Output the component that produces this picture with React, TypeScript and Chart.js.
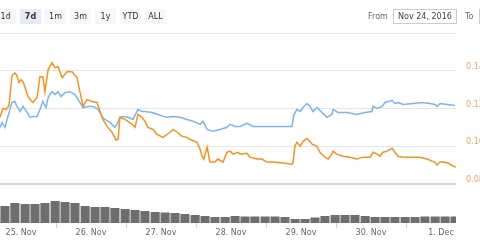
import { useEffect, useRef } from "react";
import { Chart, registerables } from "chart.js";

Chart.register(...registerables);

const FONT = "'DejaVu Sans', sans-serif";

const rangeButtons = ["1d", "7d", "1m", "3m", "1y", "YTD", "ALL"];
const selectedRange = "7d";
const fromDate = "Nov 24, 2016";

// x values: hours since 25 Nov 00:00
const dayTicks = [0, 24, 48, 72, 96, 120, 144];
const dayLabels = ["25. Nov", "26. Nov", "27. Nov", "28. Nov", "29. Nov", "30. Nov", "1. Dec"];
const priceTicks = [0.08, 0.1, 0.12, 0.14, 0.16];

const orangeHours = [
  -7.2, -6.2, -5.1, -4.1, -3.1, -2.1, -1.4, -0.7, 0, 0.7,
  1.4, 2.4, 3.4, 4.1, 5.5, 6.5, 7.5, 8.2, 9.3, 10.6,
  11.7, 12.7, 14.1, 15.8, 17.5, 19.2, 20.2, 21.3, 22.6, 24.3,
  26.1, 27.1, 28.1, 29.5, 31.2, 32.6, 33.3, 33.9, 35.7, 36.7,
  38.1, 39.1, 40.1, 41.5, 42.5, 43.5, 45.3, 46.6, 48.7, 51.1,
  52.1, 53.5, 55.2, 56.9, 57.9, 60.3, 61.4, 62.1, 62.7, 63.8,
  64.8, 66.5, 67.5, 69.3, 70.6, 71.7, 72.7, 74.4, 75.1, 77.5,
  78.5, 80.9, 82.6, 84.3, 86.4, 89.8, 92.9, 93.3, 93.9, 94.6,
  95.7, 96.7, 98.1, 99.8, 101.5, 102.5, 104.2, 105.3, 106.6, 107.0,
  108.3, 110.4, 112.8, 115.2, 117.3, 119.7, 120.7, 122.1, 123.1, 124.1,
  125.5, 127.2, 128.2, 129.3, 131.0, 133.4, 136.8, 139.2, 140.9, 141.9,
  142.6, 143.7, 144.7, 146.4, 148.1, 149.1,
];
const orangeValues = [
  0.1153, 0.12, 0.1195, 0.1216, 0.1374, 0.1389, 0.1374, 0.1337, 0.1353, 0.1342,
  0.1311, 0.1263, 0.1242, 0.1232, 0.1258, 0.1368, 0.1368, 0.1289, 0.1405, 0.1442,
  0.1416, 0.1421, 0.1363, 0.1395, 0.1395, 0.1363, 0.1289, 0.1211, 0.1247, 0.1237,
  0.1232, 0.1184, 0.1142, 0.1105, 0.1074, 0.1032, 0.1037, 0.1153, 0.1142, 0.1132,
  0.1116, 0.11, 0.1168, 0.1153, 0.1132, 0.11, 0.1089, 0.1063, 0.1047, 0.1074,
  0.1089, 0.1074, 0.1053, 0.1047, 0.1037, 0.1021, 0.0984, 0.0947, 0.0932, 0.0995,
  0.0916, 0.0916, 0.0932, 0.0916, 0.0968, 0.0974, 0.0958, 0.0968, 0.0958, 0.0963,
  0.0942, 0.0932, 0.0932, 0.0916, 0.0916, 0.0911, 0.0905, 0.0916, 0.1, 0.1021,
  0.1, 0.1026, 0.1042, 0.1011, 0.1, 0.0968, 0.0942, 0.0932, 0.0958, 0.0974,
  0.0958, 0.0947, 0.0942, 0.0932, 0.0942, 0.0942, 0.0968, 0.0958, 0.0947, 0.0968,
  0.0974, 0.0989, 0.0968, 0.0947, 0.0942, 0.0942, 0.0942, 0.0932, 0.0921, 0.0916,
  0.09, 0.0916, 0.0916, 0.0911, 0.0895, 0.0889,
];

const blueHours = [
  -7.2, -6.5, -5.5, -3.8, -3.1, -2.1, -1.4, -0.3, 0.7, 2.1,
  3.1, 4.1, 5.5, 6.5, 7.5, 8.6, 9.3, 10.6, 11.7, 12.7,
  13.7, 15.1, 16.8, 18.5, 20.2, 21.3, 23.0, 24.7, 26.4, 27.8,
  28.8, 30.5, 32.2, 32.9, 33.9, 35.0, 36.7, 38.4, 40.1, 41.5,
  42.5, 44.9, 47.0, 48.7, 50.4, 52.1, 54.5, 56.9, 59.0, 61.4,
  62.4, 63.8, 65.8, 68.2, 70.6, 71.7, 73.4, 75.1, 77.5, 79.5,
  81.9, 85.4, 88.8, 92.9, 93.6, 94.6, 95.7, 96.7, 98.1, 99.1,
  100.1, 101.5, 103.2, 104.9, 106.6, 107.0, 108.7, 111.8, 115.2, 117.9,
  120.3, 120.7, 122.1, 123.8, 124.8, 127.2, 128.2, 129.3, 131.0, 134.4,
  137.5, 140.2, 141.9, 142.6, 143.7, 146.1, 148.8,
];
const blueValues = [
  0.11, 0.1126, 0.11, 0.1195, 0.1232, 0.1237, 0.1211, 0.1184, 0.1211, 0.1179,
  0.1153, 0.1158, 0.1158, 0.1195, 0.1237, 0.1205, 0.1258, 0.1289, 0.1274, 0.1289,
  0.1263, 0.1284, 0.1289, 0.1274, 0.1232, 0.1205, 0.1211, 0.1211, 0.1195, 0.1158,
  0.1142, 0.1126, 0.11, 0.1116, 0.1153, 0.1158, 0.1153, 0.1142, 0.1195, 0.1184,
  0.1184, 0.1179, 0.1168, 0.1158, 0.1153, 0.1158, 0.1153, 0.1142, 0.1132, 0.1116,
  0.1132, 0.1089, 0.1079, 0.1089, 0.11, 0.1116, 0.1105, 0.1105, 0.1121, 0.1105,
  0.1105, 0.1105, 0.1105, 0.1105, 0.1168, 0.1195, 0.1184, 0.1205, 0.1226, 0.1211,
  0.1184, 0.1205, 0.1179, 0.1153, 0.1168, 0.1195, 0.1179, 0.1179, 0.1168, 0.1179,
  0.1184, 0.1211, 0.12, 0.1211, 0.1232, 0.1242, 0.1226, 0.1232, 0.1221, 0.1226,
  0.1232, 0.1226, 0.1221, 0.1211, 0.1226, 0.1221, 0.1216,
];

const volumeHours = [
  -5.5, -2.1, 1.4, 4.8, 8.2, 11.7, 15.1, 18.5, 22.0, 25.4,
  28.8, 32.2, 35.7, 39.1, 42.5, 46.0, 49.4, 52.8, 56.2, 59.7,
  63.1, 66.5, 70.0, 73.4, 76.8, 80.2, 83.7, 87.1, 90.5, 94.0,
  97.4, 100.8, 104.2, 107.7, 111.1, 114.5, 118.0, 121.4, 124.8, 128.2,
  131.7, 135.1, 138.5, 142.0, 145.4, 148.8,
];
const volumeValues = [
  17, 20, 19, 19, 20, 22, 21, 20, 17, 16,
  16, 15, 14, 13, 12, 11, 10.5, 10, 9, 8,
  7, 6, 6, 7, 6.5, 6.5, 6.5, 6.5, 6, 4,
  4, 5.5, 7, 8, 8, 8, 7, 6, 6, 6,
  6, 6, 6.5, 6.5, 6.5, 6.5,
];

const toPoints = (xs: number[], ys: number[]) => xs.map((x, i) => ({ x, y: ys[i] }));

export default function App() {
  const canvasRef = useRef<HTMLCanvasElement | null>(null);

  useEffect(() => {
    document.body.style.margin = "0";
    const canvas = canvasRef.current;
    if (!canvas) return;
    const chart = new Chart(canvas, {
      type: "bar",
      data: {
        datasets: [
          {
            type: "line",
            data: toPoints(orangeHours, orangeValues),
            borderColor: "#f7931a",
            borderWidth: 1.5,
            pointRadius: 0,
            tension: 0,
            yAxisID: "y",
            order: 0,
          } as any,
          {
            type: "line",
            data: toPoints(blueHours, blueValues),
            borderColor: "#7cb5ec",
            borderWidth: 1.5,
            pointRadius: 0,
            tension: 0,
            yAxisID: "y",
            order: 1,
          } as any,
          {
            type: "bar",
            data: toPoints(volumeHours, volumeValues),
            backgroundColor: "#6e6e6e",
            borderWidth: 0,
            barPercentage: 0.92,
            categoryPercentage: 1,
            yAxisID: "yv",
            order: 2,
          } as any,
        ],
      },
      options: {
        animation: false,
        responsive: false,
        layout: { padding: { top: 33, left: 0, right: 0, bottom: 0 } },
        plugins: { legend: { display: false }, tooltip: { enabled: false } },
        scales: {
          x: {
            type: "linear",
            min: -7.2,
            max: 149.14,
            offset: false,
            afterBuildTicks: (s: any) => {
              s.ticks = dayTicks.map((v) => ({ value: v }));
            },
            afterFit: (s: any) => {
              s.height = 17;
            },
            ticks: {
              autoSkip: false,
              maxRotation: 0,
              padding: 0,
              color: "#666666",
              font: { family: FONT, size: 8 },
              callback: (_v: any, i: number) => dayLabels[i] ?? "",
            },
            grid: { drawOnChartArea: false, drawTicks: true, tickLength: 5, color: "#ccd6eb" },
            border: { display: false },
          },
          y: {
            type: "linear",
            position: "right",
            min: 0.0593,
            max: 0.16,
            afterBuildTicks: (s: any) => {
              s.ticks = priceTicks.map((v) => ({ value: v }));
            },
            afterFit: (s: any) => {
              s.width = 24;
            },
            ticks: {
              padding: 10,
              labelOffset: -4,
              color: "#f7a35c",
              font: { family: FONT, size: 8 },
              callback: (v: any) => (Number(v) > 0.155 ? "" : Number(v).toFixed(2)),
            },
            grid: {
              drawTicks: false,
              color: (ctx: any) => (Math.abs(ctx.tick?.value - 0.08) < 1e-6 ? "#d4d4d4" : "#e6e6e6"),
              lineWidth: (ctx: any) => (Math.abs(ctx.tick?.value - 0.08) < 1e-6 ? 2 : 1),
            },
            border: { display: false },
          },
          yv: {
            type: "linear",
            display: false,
            min: 0,
            max: 190,
          },
        },
      } as any,
    });
    return () => chart.destroy();
  }, []);

  const textStyle = { fontFamily: FONT, fontSize: 8, color: "#333333" } as const;

  return (
    <div style={{ position: "relative", width: 480, height: 240, overflow: "hidden", background: "#ffffff" }}>
      <canvas ref={canvasRef} width={480} height={240} style={{ position: "absolute", left: 0, top: 0 }} />
      {rangeButtons.map((b, i) => (
        <div
          key={b}
          style={{
            ...textStyle,
            position: "absolute",
            left: -5 + 25 * i,
            top: 9,
            width: 21,
            height: 15,
            lineHeight: "15px",
            textAlign: "center",
            background: b === selectedRange ? "#e6ebf5" : "#f7f7f7",
            fontWeight: b === selectedRange ? "bold" : "normal",
          }}
        >
          {b}
        </div>
      ))}
      <div style={{ ...textStyle, color: "#666666", position: "absolute", left: 368, top: 9, lineHeight: "15px" }}>From</div>
      <div
        style={{
          ...textStyle,
          position: "absolute",
          left: 393,
          top: 9,
          width: 62,
          height: 13,
          lineHeight: "13px",
          border: "1px solid #cccccc",
          textAlign: "center",
          color: "#444444",
        }}
      >
        {fromDate}
      </div>
      <div style={{ ...textStyle, color: "#666666", position: "absolute", left: 465, top: 9, lineHeight: "15px" }}>To</div>
      <div style={{ position: "absolute", left: 479, top: 9, width: 60, height: 13, border: "1px solid #cccccc" }} />
    </div>
  );
}
